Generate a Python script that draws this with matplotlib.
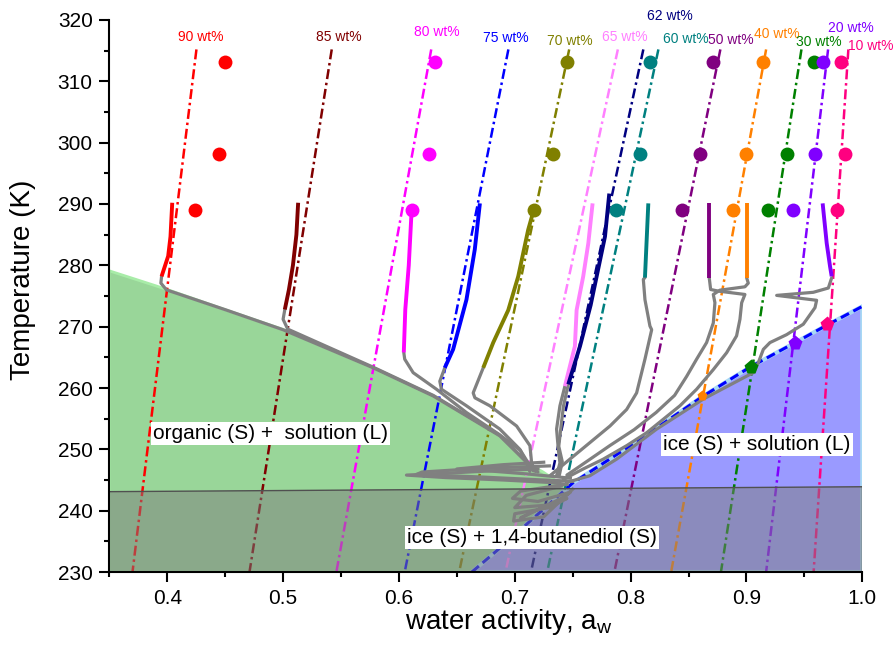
import matplotlib
matplotlib.use('Agg')
import matplotlib.pyplot as plt
import numpy as np

plt.rcParams['font.family'] = ['Liberation Sans', 'DejaVu Sans']
plt.rcParams['mathtext.fontset'] = 'custom'
plt.rcParams['mathtext.rm'] = 'Liberation Sans'
plt.rcParams['mathtext.it'] = 'Liberation Sans'
plt.rcParams['mathtext.default'] = 'regular'

# ---------------- data ----------------
conc = ['90', '85', '80', '75', '70', '65', '62', '60', '50', '40', '30', '20', '10']
line_colors = ['#ff0000', '#800000', '#ff00ff', '#0000ff', '#808000', '#ff80ff',
               '#000080', '#008080', '#800080', '#ff8000', '#008000', '#8000ff', '#ff0080']

# calculated (dash-dot) lines: a_w at T = calc_T[0] (top) and calc_T[1] (bottom)
calc_T = [315.2, 230.0]
calc_aw_top = [0.4252, 0.5420, 0.6279, 0.6945, 0.7470, 0.7890, 0.8110, 0.8240,
               0.8775, 0.9170, 0.9475, 0.9705, 0.9880]
calc_aw_bottom = [0.370, 0.471, 0.546, 0.605, 0.652, 0.692, 0.714, 0.728,
                  0.786, 0.835, 0.878, 0.917, 0.958]

label_aw = [0.4286, 0.5478, 0.6328, 0.6926, 0.7479, 0.7954, 0.8343, 0.8473,
            0.8861, 0.9263, 0.9623, 0.9901, 1.0074]
label_T = [317.3, 317.3, 318.1, 317.0, 316.5, 317.2, 320.6, 316.9,
           316.7, 317.7, 316.4, 318.7, 315.8]

# measured points (filled circles)
circle_T = [313.2, 298.15, 289.1]
circle_conc = ['90', '80', '70', '60', '50', '40', '30', '20', '10']
circle_aw = [[0.4495, 0.4447, 0.4238],
             [0.6312, 0.6261, 0.6110],
             [0.7450, 0.7326, 0.7165],
             [0.8165, 0.8085, 0.7878],
             [0.8712, 0.8598, 0.8445],
             [0.9144, 0.8992, 0.8886],
             [0.9581, 0.9351, 0.9186],
             [0.9662, 0.9590, 0.9401],
             [0.9820, 0.9855, 0.9783]]

# ice melting points (pentagons)
pent_conc = ['40', '30', '20', '10']
pent_aw = [0.8613, 0.9036, 0.9419, 0.9693]
pent_T = [258.7, 263.5, 267.4, 270.36]

# ice melting curve
ice_aw = [0.663, 0.689, 0.750, 0.808, 0.862, 0.904, 0.942, 0.970, 1.000]
ice_T = [230.0, 234.2, 244.5, 251.6, 258.6, 263.5, 267.4, 270.3, 273.3]

# organic (1,4-butanediol) liquidus
org_aw = [0.350, 0.3993, 0.4511, 0.500, 0.5777, 0.6296, 0.6871, 0.7101, 0.7245]
org_T = [279.1, 276.1, 272.7, 269.55, 263.3, 258.7, 252.2, 247.85, 246.3]

# eutectic band
eut_aw = [0.35, 1.0]
eut_T = [243.1, 243.9]

# measured trajectories (coloured part, then grey part)
seg_aw = {
    '90': [0.4043, 0.4028, 0.4008, 0.3951],
    '85': [0.5130, 0.5115, 0.5085, 0.5050, 0.5015],
    '80': [0.6110, 0.6085, 0.6055, 0.6042],
    '75': [0.6699, 0.6655, 0.6583, 0.6468, 0.6396],
    '70': [0.7165, 0.7116, 0.7030, 0.6944, 0.6814, 0.6728],
    '65': [0.7672, 0.7635, 0.7591, 0.7534, 0.7519, 0.7433],
    '62': [0.7816, 0.7779, 0.7707, 0.7655, 0.7563, 0.7462],
    '60': [0.8153, 0.8124],
    '50': [0.8679, 0.8679],
    '40': [0.9002, 0.9002],
    '20': [0.9658, 0.9693, 0.9722, 0.9736],
}
seg_T = {
    '90': [290.2, 284.7, 281.5, 278.2],
    '85': [290.2, 285.0, 280.0, 276.0, 272.8],
    '80': [289.1, 280.0, 272.8, 265.8],
    '75': [290.1, 282.6, 274.4, 266.3, 263.3],
    '70': [289.1, 285.8, 278.2, 272.7, 267.4, 263.3],
    '65': [290.1, 283.6, 278.2, 272.7, 266.8, 260.3],
    '62': [291.7, 284.7, 278.2, 273.5, 266.8, 260.6],
    '60': [290.1, 278.0],
    '50': [290.1, 278.0],
    '40': [290.1, 278.0],
    '20': [290.1, 283.6, 279.8, 278.2],
}
grey_aw = {
    '90': [0.3951, 0.3945, 0.3993, 0.4511, 0.500, 0.5777, 0.6296, 0.6871, 0.7101, 0.7180],
    '85': [0.5015, 0.5000, 0.5040, 0.5777, 0.6296, 0.6871, 0.7101, 0.7200],
    '80': [0.6042, 0.6050, 0.6123, 0.6324, 0.6583, 0.6860, 0.7050, 0.7125, 0.7160],
    '75': [0.6396, 0.6353, 0.6367, 0.6583, 0.6871, 0.7044, 0.7101, 0.7130],
    '70': [0.6728, 0.6641, 0.6656, 0.6785, 0.7016, 0.7131, 0.7145, 0.7170],
    '65': [0.7433, 0.7390, 0.7361, 0.7376, 0.7390, 0.7361],
    '62': [0.7462, 0.7420, 0.7395, 0.7380, 0.7410, 0.7385],
    '60': [0.8124, 0.8110, 0.8124, 0.8167, 0.8182, 0.8124, 0.8052, 0.7966, 0.7822,
           0.7649, 0.7476, 0.7304],
    '50': [0.8679, 0.8691, 0.8757, 0.8987, 0.8959, 0.8944, 0.8915, 0.8829, 0.8714,
           0.8570, 0.8426, 0.8282, 0.8138, 0.7966, 0.7764, 0.7591, 0.7419],
    '40': [0.9002, 0.9016, 0.8987, 0.8771, 0.8714, 0.8728, 0.8714, 0.8656, 0.8570,
           0.8484, 0.8380, 0.8220, 0.8030, 0.7820, 0.7620, 0.7450],
    '20': [0.9736, 0.9707, 0.9577, 0.9261, 0.9606, 0.9592, 0.9491, 0.9347, 0.9203,
           0.9146, 0.9102, 0.9059, 0.8628, 0.8225, 0.7879, 0.7649, 0.7447],
}
grey_T = {
    '90': [278.2, 277.1, 276.0, 272.7, 269.5, 263.3, 258.7, 252.2, 247.9, 246.4],
    '85': [272.8, 271.2, 269.6, 263.4, 258.8, 252.3, 248.0, 246.3],
    '80': [265.8, 264.7, 262.5, 259.8, 256.0, 252.5, 249.8, 247.5, 246.5],
    '75': [263.3, 261.1, 259.8, 257.1, 253.3, 250.0, 247.8, 246.4],
    '70': [263.3, 259.2, 258.4, 257.1, 253.8, 250.6, 247.9, 246.5],
    '65': [260.3, 257.1, 253.3, 250.0, 247.8, 245.7],
    '62': [260.6, 257.0, 253.0, 250.5, 248.0, 245.8],
    '60': [278.0, 277.7, 274.4, 270.1, 269.5, 264.7, 259.2, 256.5, 253.8, 251.1,
           248.4, 245.7],
    '50': [277.96, 276.06, 275.8, 275.25, 273.9, 271.2, 268.5, 265.75, 263.0, 259.8,
           257.1, 254.9, 252.7, 250.6, 248.4, 246.8, 245.1],
    '40': [277.96, 277.1, 276.5, 275.95, 275.25, 273.9, 270.6, 267.4, 264.7, 261.9,
           258.8, 256.0, 253.2, 250.6, 248.0, 245.8],
    '20': [277.96, 276.3, 275.6, 275.1, 274.3, 273.1, 270.4, 268.7, 267.4, 266.3,
           264.1, 262.5, 258.2, 253.3, 248.4, 245.7, 244.6],
}
# tangled grey traces near the eutectic
mess_aw = [[0.7200, 0.6800, 0.6400, 0.6065, 0.6400, 0.6900, 0.7300, 0.7450],
           [0.7300, 0.6700, 0.6200, 0.6150, 0.6700, 0.7250, 0.7500],
           [0.7250, 0.6900, 0.6500, 0.6700, 0.7100, 0.7480],
           [0.7450, 0.7050, 0.6980, 0.7200, 0.7480, 0.7300, 0.7000, 0.6990, 0.7250, 0.7500],
           [0.7400, 0.7100, 0.7000, 0.7350, 0.7450, 0.7150, 0.7050, 0.7400]]
mess_T = [[246.8, 246.5, 246.1, 245.8, 245.4, 245.0, 244.6, 244.3],
          [247.3, 246.9, 246.3, 245.9, 245.5, 245.0, 244.8],
          [247.9, 247.5, 246.8, 246.6, 246.0, 245.3],
          [244.3, 243.2, 242.0, 241.5, 243.0, 240.5, 239.5, 238.3, 239.0, 243.5],
          [244.0, 242.5, 240.5, 241.0, 242.0, 239.8, 238.8, 242.0]]

region_text = ['organic (S) +  solution (L)', 'ice (S) + solution (L)',
               'ice (S) + 1,4-butanediol (S)']
region_aw = [0.489, 0.909, 0.7145]
region_T = [252.6, 250.75, 235.6]

xticks = [0.4, 0.5, 0.6, 0.7, 0.8, 0.9, 1.0]
xtick_labels = ['0.4', '0.5', '0.6', '0.7', '0.8', '0.9', '1.0']
yticks = [230, 240, 250, 260, 270, 280, 290, 300, 310, 320]

# ---------------- figure ----------------
fig = plt.figure(figsize=(8.94, 6.55), dpi=100)
ax = fig.add_axes([0.1223, 0.1267, 0.8422, 0.8428])
ax.set_xlim(0.35, 1.0)
ax.set_ylim(230, 320)

col = dict(zip(conc, line_colors))
grey = '#808080'

# phase regions
ice_at_tip = np.interp(0.745, ice_aw, ice_T)
mask = np.array(ice_aw) <= 0.745
g_x = list(org_aw) + [0.745] + list(np.array(ice_aw)[mask][::-1]) + [0.35]
g_y = list(org_T) + [ice_at_tip] + list(np.array(ice_T)[mask][::-1]) + [230.0]
ax.fill(g_x, g_y, facecolor='#99d699', edgecolor='#a8eca8', lw=2, zorder=1)

b_x = list(ice_aw) + [1.0]
b_y = list(ice_T) + [230.0]
ax.fill(b_x, b_y, facecolor='#9a9aff', edgecolor='#a8d8f4', lw=3, zorder=1)

# calculated dash-dot lines
for i, c in enumerate(conc):
    ax.plot([calc_aw_top[i], calc_aw_bottom[i]], calc_T, color=line_colors[i],
            lw=1.8, ls=(0, (4, 1.5, 1, 1.5)), zorder=2)
    ax.text(label_aw[i], label_T[i], c + ' wt%', color=line_colors[i],
            fontsize=10, ha='center', va='center', zorder=8)

# ice line
ax.plot(ice_aw, ice_T, color='#0000ff', lw=2.2, ls=(0, (3, 1.6)), zorder=3)

# grey trajectories
for c in grey_aw:
    ax.plot(grey_aw[c], grey_T[c], color=grey, lw=2.3, zorder=3,
            solid_joinstyle='round', solid_capstyle='round')
for xs, ys in zip(mess_aw, mess_T):
    ax.plot(xs, ys, color=grey, lw=2.3, zorder=3, solid_joinstyle='round')

# coloured measured segments
for c in seg_aw:
    ax.plot(seg_aw[c], seg_T[c], color=col[c], lw=2.8, zorder=4,
            solid_capstyle='butt')

# eutectic overlay
ov_x = [0.35, 1.0, 1.0, 0.35]
ov_y = [230.0, 230.0, eut_T[1], eut_T[0]]
ax.fill(ov_x, ov_y, facecolor='#7d7d7d', alpha=0.5, edgecolor='none', zorder=5)
ax.plot(eut_aw, eut_T, color='#505050', lw=1.0, zorder=5)
ax.plot([1.0, 1.0], [230.0, eut_T[1]], color='#505050', lw=1.0, zorder=5)

# markers
for c, aws in zip(circle_conc, circle_aw):
    ax.plot(aws, circle_T, 'o', color=col[c], ms=10, mec='none', zorder=6)
for c, a, t in zip(pent_conc, pent_aw, pent_T):
    ax.plot([a], [t], 'p', color=col[c], ms=11 if c != '40' else 8, mec='none', zorder=6)

# region labels
for txt, a, t in zip(region_text, region_aw, region_T):
    ax.text(a, t, txt, fontsize=15, ha='center', va='center', zorder=9,
            bbox=dict(facecolor='white', edgecolor='none', pad=1.5))

# axes styling
for s in ['top', 'right']:
    ax.spines[s].set_visible(False)
for s in ['left', 'bottom']:
    ax.spines[s].set_linewidth(1.5)
    ax.spines[s].set_zorder(10)
ax.set_xticks(xticks)
ax.set_xticklabels(xtick_labels)
ax.set_xticks(np.arange(0.35, 1.0001, 0.05), minor=True)
ax.set_yticks(yticks)
ax.set_yticks(np.arange(230, 320.1, 5), minor=True)
ax.tick_params(which='major', direction='out', length=7, width=1.5,
               labelsize=15, pad=5)
ax.tick_params(which='minor', direction='out', length=3.5, width=1.5)

ax.set_xlabel(r'water activity, a$_{w}$', fontsize=20)
ax.xaxis.set_label_coords(0.53, -0.063)
ax.set_ylabel('Temperature (K)', fontsize=20)
ax.yaxis.set_label_coords(-0.097, 0.53)

fig.savefig('out.png', dpi=100)
